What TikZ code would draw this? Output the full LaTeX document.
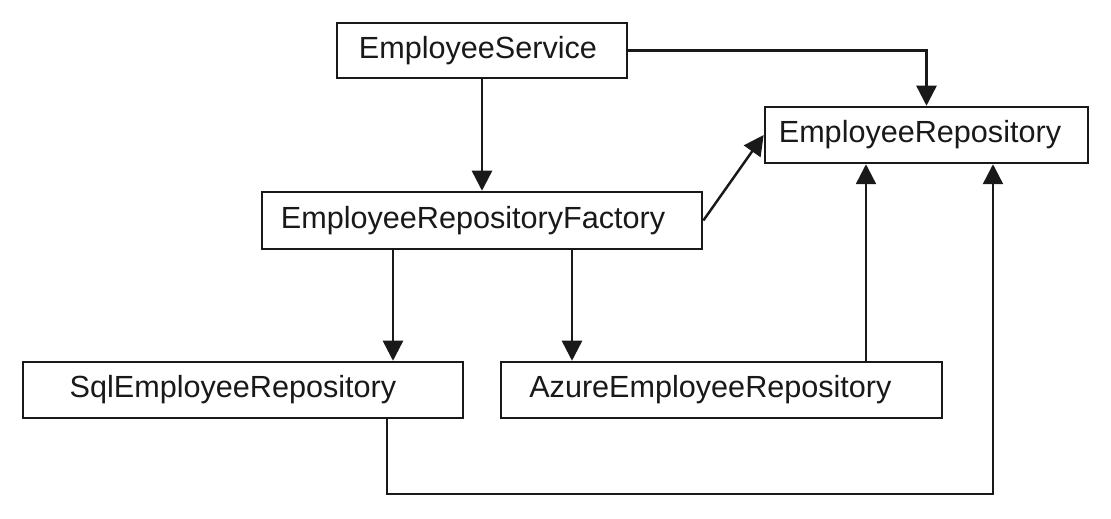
\documentclass[tikz,border=0pt]{standalone}
\usepackage{fontspec}
\setmainfont{Liberation Sans}
\usetikzlibrary{arrows.meta}
\begin{document}
\begin{tikzpicture}[x=0.01cm,y=-0.01cm,
  box/.style={draw=black!90, line width=0.7pt, fill=white, inner sep=0pt,
    font=\fontsize{8.7pt}{10pt}\selectfont, text=black!90},
  conn/.style={line width=0.7pt, draw=black!90, -{Triangle[length=0.2cm,width=0.2cm]}}]
\useasboundingbox (0,0) rectangle (1111,519);
\node[box, minimum width=2.90cm, minimum height=0.55cm] (es) at (482,50.5) {EmployeeService\rule{2.3pt}{0pt}};
\node[box, minimum width=3.23cm, minimum height=0.56cm] (er) at (926.5,135) {EmployeeRepository\rule{3.7pt}{0pt}};
\node[box, minimum width=4.40cm, minimum height=0.57cm] (f) at (482,220.5) {EmployeeRepositoryFactory\rule{5.1pt}{0pt}};
\node[box, minimum width=4.40cm, minimum height=0.56cm] (sql) at (243,390) {SqlEmployeeRepository\rule{5.7pt}{0pt}};
\node[box, minimum width=4.41cm, minimum height=0.56cm] (az) at (721.5,390) {AzureEmployeeRepository\rule{6.3pt}{0pt}};
\coordinate (xa) at (393,0);
\coordinate (xb) at (572,0);
\coordinate (xc) at (866,0);
\coordinate (xd) at (387,0);
\coordinate (xe) at (993,0);
\coordinate (yb) at (0,494);
\draw[conn] (es.south) -- (f.north);
\draw[conn] (es.east) -| (er.north);
\draw[conn] (f.east) -- (er.west);
\draw[conn] (f.south -| xa) -- (sql.north -| xa);
\draw[conn] (f.south -| xb) -- (az.north -| xb);
\draw[conn] (az.north -| xc) -- (er.south -| xc);
\draw[conn] (sql.south -| xd) -- (xd |- yb) -- (xe |- yb) -- (er.south -| xe);
\end{tikzpicture}
\end{document}
